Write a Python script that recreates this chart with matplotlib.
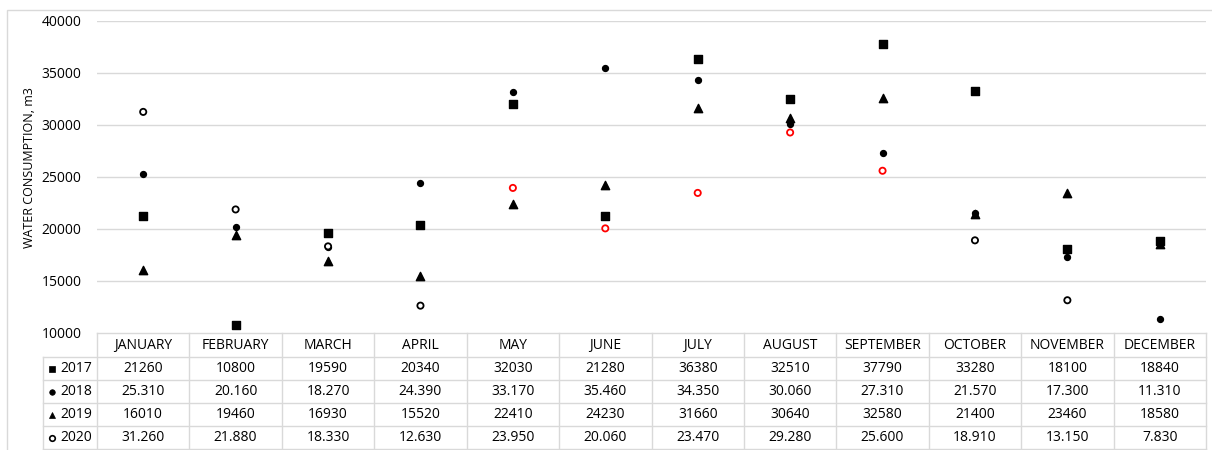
import matplotlib.pyplot as plt
import matplotlib.transforms as mtransforms
from matplotlib.patches import Rectangle

plt.rcParams['font.family'] = ['Open Sans', 'DejaVu Sans']

months = ["JANUARY", "FEBRUARY", "MARCH", "APRIL", "MAY", "JUNE", "JULY",
          "AUGUST", "SEPTEMBER", "OCTOBER", "NOVEMBER", "DECEMBER"]
years = ["2017", "2018", "2019", "2020"]

w2017 = [21260, 10800, 19590, 20340, 32030, 21280, 36380, 32510, 37790, 33280, 18100, 18840]
w2018 = [25310, 20160, 18270, 24390, 33170, 35460, 34350, 30060, 27310, 21570, 17300, 11310]
w2019 = [16010, 19460, 16930, 15520, 22410, 24230, 31660, 30640, 32580, 21400, 23460, 18580]
w2020 = [31260, 21880, 18330, 12630, 23950, 20060, 23470, 29280, 25600, 18910, 13150, 7830]
# months of 2020 drawn in red in the original
red_2020 = [4, 5, 6, 7, 8]

W, H = 1212, 450
fig = plt.figure(figsize=(W / 100, H / 100), dpi=100)

def fx(px):
    return px / W

def fy(py):
    return 1 - py / H

# chart border (bottom and right run off the picture)
fig.patches.append(Rectangle((fx(7), fy(460)), fx(1220), fy(10) - fy(460),
                             transform=fig.transFigure, fill=False,
                             edgecolor="#d9d9d9", linewidth=1))

ax = fig.add_axes([fx(97), fy(333), fx(1206) - fx(97), fy(21) - fy(333)])
ax.set_xlim(-0.5, 11.5)
ax.set_ylim(10000, 40000)
ax.set_yticks(range(10000, 40001, 5000))
ax.tick_params(axis="y", length=0, labelsize=10, pad=11)
ax.set_xticks([])
for s in ax.spines.values():
    s.set_visible(False)
for v in range(15000, 40001, 5000):
    ax.axhline(v, color="#d9d9d9", linewidth=1, zorder=0)

x = list(range(12))
ax.scatter(x, w2017, marker="s", s=26, color="black", zorder=3, clip_on=False)
ax.scatter(x, w2018, marker="o", s=18, color="black", zorder=3, clip_on=False)
ax.scatter(x, w2019, marker="^", s=36, color="black", zorder=3, clip_on=False)
cols = ["red" if i in red_2020 else "black" for i in x]
x20 = [i for i in x if w2020[i] >= 10000]
ax.scatter(x20, [w2020[i] for i in x20], marker="o", s=20, facecolors="white",
           edgecolors=[cols[i] for i in x20], linewidths=1.3, zorder=3)

fig.text(fx(30), fy(168), "WATER CONSUMPTION, m3", rotation=90,
         ha="center", va="center", fontsize=9)

# data table under the plot
tr = mtransforms.blended_transform_factory(ax.transData, fig.transFigure)
rows_y = [333, 357, 380, 403, 426, 449]
grid = "#d9d9d9"
for yy in rows_y:
    x0 = fx(97) if yy == 333 else fx(43)
    fig.add_artist(plt.Line2D([x0, fx(1206)], [fy(yy), fy(yy)], color=grid, lw=1))
fig.add_artist(plt.Line2D([fx(43), fx(43)], [fy(357), fy(449)], color=grid, lw=1))
for i in range(13):
    ln = plt.Line2D([i - 0.5, i - 0.5], [fy(333), fy(449)], color=grid, lw=1,
                    transform=tr)
    fig.add_artist(ln)

for i, m in enumerate(months):
    fig.text(i, fy(345.5), m, transform=tr, ha="center", va="center", fontsize=10)

def fmt(v, dotted):
    return f"{v / 1000:.3f}" if dotted else str(v)

series = [(w2017, False, "s"), (w2018, True, "o"), (w2019, False, "^"), (w2020, True, "o")]
for r, (vals, dotted, mk) in enumerate(series):
    yc = (rows_y[r + 1] + rows_y[r + 2]) / 2
    for i, v in enumerate(vals):
        fig.text(i, fy(yc), fmt(v, dotted), transform=tr, ha="center",
                 va="center", fontsize=10)
    hollow = r == 3
    fig.add_artist(plt.Line2D([fx(52)], [fy(yc)], marker=mk, linestyle="none",
                              markersize=5 if mk != "o" else 4,
                              markerfacecolor="white" if hollow else "black",
                              markeredgecolor="black", markeredgewidth=1.2 if hollow else 0.5))
    fig.text(fx(60), fy(yc), years[r], ha="left", va="center", fontsize=10)

fig.savefig("out.png", dpi=100)
